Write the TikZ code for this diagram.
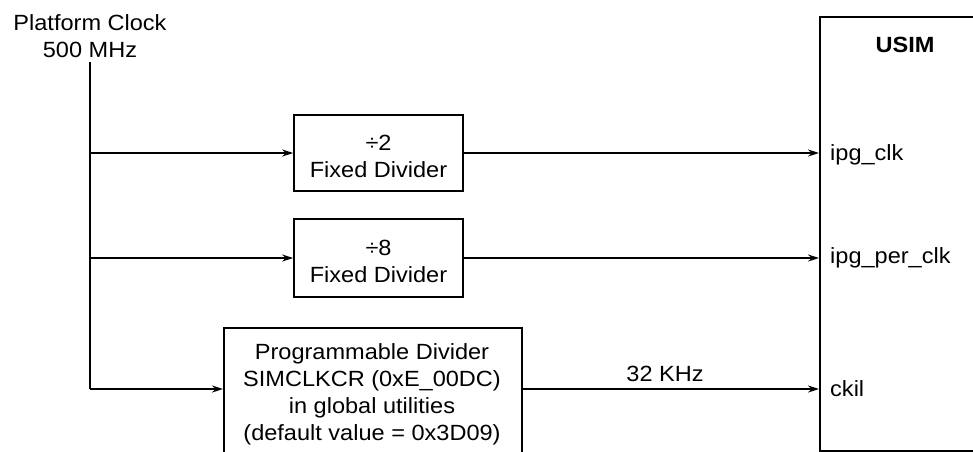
\documentclass[tikz,border=0pt]{standalone}
\usepackage{fontspec}
\setmainfont[FakeStretch=1.07]{Liberation Sans}
\usetikzlibrary{arrows.meta}
\tikzset{
  wire/.style={line width=1.6pt, draw=black},
  arr/.style={wire, -{Stealth[length=11pt,width=7pt]}},
  box/.style={draw=black, line width=1.6pt, inner sep=0pt},
  lbl/.style={inner sep=0pt, font=\fontsize{22}{27}\selectfont},
}
\begin{document}
\begin{tikzpicture}[x=1pt,y=-1pt]
\useasboundingbox (0,0) rectangle (973,451);
\clip (0,0) rectangle (973,451);
% source label
\node[lbl, align=center] (src) at (90,36) {Platform Clock\\500 MHz};
\coordinate (top) at (90,62);
\coordinate (j1) at (90,153);
\coordinate (j2) at (90,258);
\coordinate (j3) at (90,389);
% divider boxes
\node[box, minimum width=169pt, minimum height=76pt] (d2) at (378.5,153) {};
\node[lbl, align=center] (d2t) at (378.5,156) {÷2\\Fixed Divider};
\node[box, minimum width=169pt, minimum height=78pt] (d8) at (378.5,258) {};
\node[lbl, align=center] (d8t) at (378.5,261) {÷8\\Fixed Divider};
\node[box, minimum width=298pt, minimum height=160pt, anchor=north west] (prog) at (223,327) {};
\node[lbl, align=center] (progt) at (372,394) {Programmable Divider\\SIMCLKCR (0xE\_00DC)\\in global utilities\\(default value = 0x3D09)};
% USIM
\node[box, minimum width=180pt, minimum height=434pt, anchor=north west] (usim) at (819,16) {};
\node[lbl, font=\fontsize{22}{27}\selectfont\bfseries] (usimt) at (905,45) {USIM};
\coordinate (u1) at (usim.west |- d2.east);
\coordinate (u2) at (usim.west |- d8.east);
\coordinate (u3) at (usim.west |- 0,389);
\node[lbl, anchor=west] (p1) at (830,155) {ipg\_clk};
\node[lbl, anchor=west] (p2) at (830,258) {ipg\_per\_clk};
\node[lbl, anchor=west] (p3) at (830,389) {ckil};
% connectors
\draw[wire] (top) -- (j3);
\draw[arr] (j1) -- (d2.west);
\draw[arr] (j2) -- (d8.west);
\draw[arr] (j3) -- (prog.west |- j3);
\draw[arr] (d2.east) -- (u1);
\draw[arr] (d8.east) -- (u2);
\draw[arr] (prog.east |- j3) -- (u3);
\node[lbl] (khz) at (665,374) {32 KHz};
\end{tikzpicture}
\end{document}
